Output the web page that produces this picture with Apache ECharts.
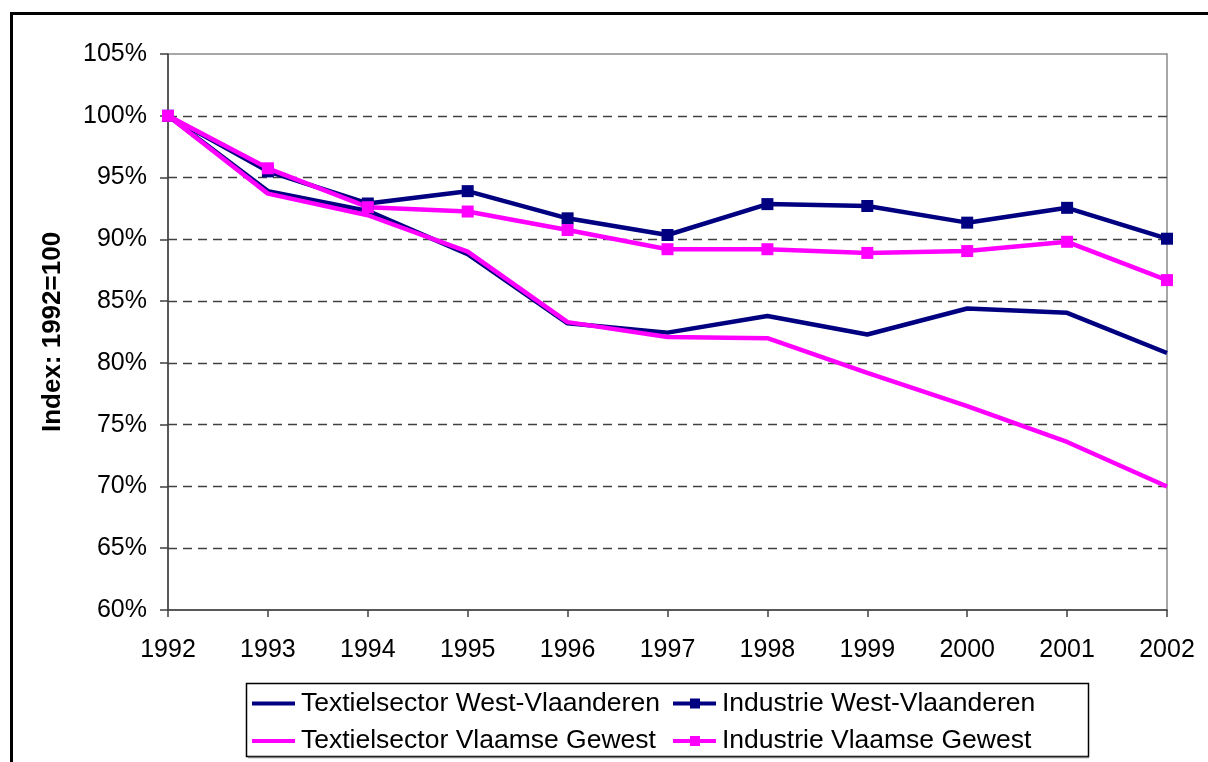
<!DOCTYPE html>
<html>
<head>
<meta charset="utf-8">
<script src="https://cdn.jsdelivr.net/npm/echarts@6/dist/echarts.min.js"></script>
<style>
  html, body { margin: 0; padding: 0; background: #fff; }
  #chart { width: 1208px; height: 762px; }
</style>
</head>
<body>
<div id="chart"></div>
<script>
// jaren en index (1992 = 100)
const years = ['1992', '1993', '1994', '1995', '1996', '1997', '1998', '1999', '2000', '2001', '2002']
const textielWV = [100, 93.9, 92.3, 88.8, 83.2, 82.45, 83.8, 82.3, 84.4, 84.05, 80.8]
const industrieWV = [100, 95.5, 92.9, 93.9, 91.7, 90.35, 92.85, 92.7, 91.35, 92.55, 90.05]
const textielVG = [100, 93.7, 91.95, 89.0, 83.3, 82.1, 82.0, 79.2, 76.5, 73.6, 70.0]
const industrieVG = [100, 95.75, 92.6, 92.25, 90.75, 89.2, 89.2, 88.9, 89.05, 89.8, 86.7]
const yTicks = { min: 60, max: 105, step: 5 }

const NAVY = '#000080'
const PINK = '#ff00ff'
const FONT = '"Liberation Sans", Arial, sans-serif'

// legend iconen: lijn, en lijn met blokje
const ICON_LINE = 'path://M0,0H43V4H0Z'
const ICON_MARK = 'path://M0,3H17V0H27V3H43V7H27V10H17V7H0Z'

let chart = echarts.init(document.getElementById('chart'), null, { renderer: 'canvas' })

function lineSerie (name, data, color, marker) {
  return {
    name: name,
    type: 'line',
    data: data,
    color: color,
    symbol: marker ? 'rect' : 'none',
    symbolSize: 12,
    showSymbol: marker,
    lineStyle: { width: 4.5, color: color },
    itemStyle: { color: color },
    emphasis: { disabled: true },
    animation: false
  }
}

function legendAt (name, left, top, marker) {
  return {
    data: [{ name: name, icon: marker ? ICON_MARK : ICON_LINE }],
    left: left,
    top: top,
    itemWidth: 43,
    itemHeight: marker ? 10 : 4,
    itemGap: 0,
    padding: 0,
    selectedMode: false,
    itemStyle: { borderWidth: 0 },
    textStyle: { fontFamily: FONT, fontSize: 26.5, color: '#000', padding: [0, 0, 0, 1] }
  }
}

chart.setOption({
  backgroundColor: '#fff',
  animation: false,
  textStyle: { fontFamily: FONT },
  grid: {
    left: 168, right: 41, top: 54, bottom: 152,
    show: true, borderColor: '#8a8a8a', borderWidth: 1.5, backgroundColor: 'transparent'
  },
  graphic: [
    {
      type: 'rect', z: 100, silent: true,
      shape: { x: 11.5, y: 13.5, width: 1400, height: 900 },
      style: { fill: 'none', stroke: '#000', lineWidth: 3 }
    },
    {
      type: 'rect', z: 0, silent: true,
      shape: { x: 246.5, y: 683.5, width: 842, height: 73 },
      style: { fill: '#fff', stroke: '#000', lineWidth: 1.5 }
    },
    {
      type: 'line', z: 0, silent: true,
      shape: { x1: 248, y1: 757.5, x2: 1089, y2: 757.5 },
      style: { stroke: '#808080', lineWidth: 1.5 }
    }
  ],
  legend: [
    legendAt('Textielsector West-Vlaanderen', 252, 690, false),
    legendAt('Industrie West-Vlaanderen', 673, 690, true),
    legendAt('Textielsector Vlaamse Gewest', 252, 727.5, false),
    legendAt('Industrie Vlaamse Gewest', 673, 727.5, true)
  ],
  xAxis: {
    type: 'category',
    data: years,
    boundaryGap: false,
    axisLine: { lineStyle: { color: '#404040', width: 1.5 } },
    axisTick: { show: true, length: 7, inside: false, lineStyle: { color: '#404040', width: 1.5 } },
    axisLabel: { color: '#000', fontSize: 25, fontFamily: FONT, margin: 28 },
    splitLine: { show: false }
  },
  yAxis: {
    type: 'value',
    min: yTicks.min,
    max: yTicks.max,
    interval: yTicks.step,
    name: 'Index: 1992=100',
    nameLocation: 'middle',
    nameRotate: 90,
    nameGap: 102,
    nameTextStyle: { color: '#000', fontSize: 26, fontWeight: 'bold', fontFamily: FONT },
    axisLine: { show: true, lineStyle: { color: '#404040', width: 1.5 } },
    axisTick: { show: true, length: 8, inside: false, lineStyle: { color: '#404040', width: 1.5 } },
    axisLabel: { color: '#000', fontSize: 25, fontFamily: FONT, margin: 21, formatter: '{value}%' },
    splitLine: {
      show: true, showMinLine: false, showMaxLine: false,
      lineStyle: { color: '#404040', width: 1.3, type: [9, 6] }
    }
  },
  series: [
    lineSerie('Textielsector West-Vlaanderen', textielWV, NAVY, false),
    lineSerie('Industrie West-Vlaanderen', industrieWV, NAVY, true),
    lineSerie('Textielsector Vlaamse Gewest', textielVG, PINK, false),
    lineSerie('Industrie Vlaamse Gewest', industrieVG, PINK, true)
  ]
})
</script>
</body>
</html>
